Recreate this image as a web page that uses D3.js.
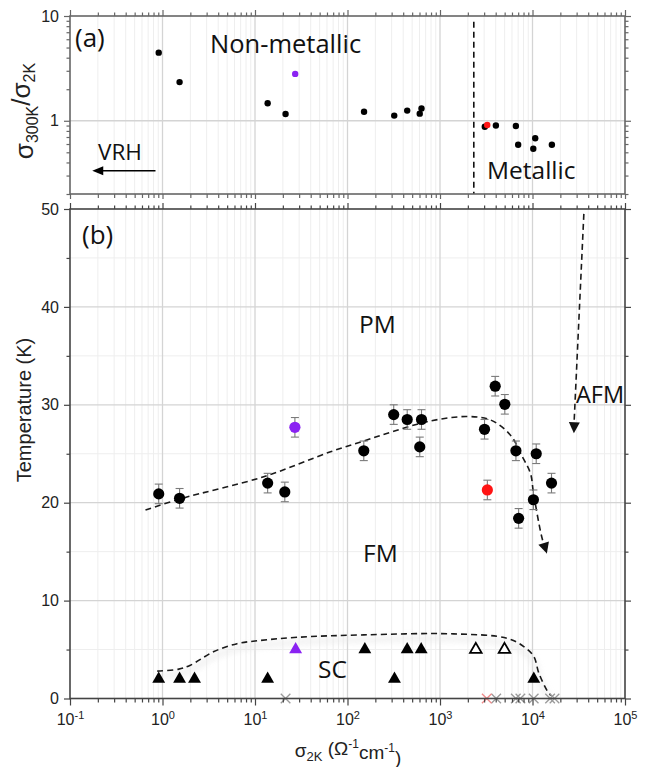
<!DOCTYPE html>
<html>
<head>
<meta charset="utf-8">
<script src="https://cdn.jsdelivr.net/npm/d3@7"></script>
<style>
  body { margin: 0; background: #fff; }
  svg { display: block; }
  .tick text { font-family: "Liberation Sans", Arial, sans-serif; fill: #222; }
</style>
</head>
<body>
<svg id="chart" width="651" height="767"></svg>
<script>
// ---------- (a) conductivity ratio sigma300K / sigma2K ----------
const ratioSigma = [0.91, 1.53, 13.7, 21.4, 151, 320, 442, 604, 631, 3050, 4020, 6610, 7000, 10200, 10700, 16200];
const ratioValue = [4.47, 2.34, 1.47, 1.16, 1.22, 1.12, 1.25, 1.17, 1.31, 0.877, 0.90, 0.89, 0.59, 0.54, 0.68, 0.59];
const ratioVioletSigma = [27.2];
const ratioVioletValue = [2.8];
const ratioRedSigma = [3240];
const ratioRedValue = [0.91];
const metallicBoundary = 2320;

// ---------- (b) transition temperatures ----------
// ferromagnetic Curie temperatures (circles, +/- error)
const fmSigma = [0.91, 1.53, 13.7, 21, 150, 316, 442, 631, 604, 3030, 3950, 5020, 6620, 7080, 10970, 10230, 16050];
const fmTemp  = [20.9, 20.45, 22.0, 21.1, 25.3, 29.0, 28.5, 28.5, 25.7, 27.5, 31.9, 30.05, 25.3, 18.4, 25.0, 20.3, 22.0];
const fmErr   = [1.0, 1.0, 1.0, 1.0, 1.0, 1.0, 1.0, 1.0, 1.0, 1.0, 1.0, 1.0, 1.0, 1.0, 1.0, 1.0, 1.0];
const fmVioletSigma = [27];
const fmVioletTemp = [27.7];
const fmRedSigma = [3250];
const fmRedTemp = [21.3];
const fmHighlightErr = 1.0;

// superconducting transitions (triangles)
const scSigma = [0.91, 1.53, 2.22, 13.7, 154, 322, 442, 626, 10330];
const scTemp  = [2, 2, 2, 2, 5, 2, 5, 5, 2];
const scOpenSigma = [2440, 4980];
const scOpenTemp = [5, 5];
const scVioletSigma = [27.5];
const scVioletTemp = [5];

// samples without a superconducting transition (crosses at 0 K)
const noScSigma = [21.4, 4050, 6600, 7400, 10300, 15500, 17300];
const noScRedSigma = [3200];

// guide-to-the-eye phase boundaries
const fmBoundary = [[0.655, 19.25], [1.57, 20.4], [12.4, 22.65], [65.5, 25.2], [150, 26.3], [316, 27.3],
  [789, 28.35], [1960, 28.8], [3520, 28.45], [5780, 26.9], [7750, 24.7], [9500, 23.0], [10250, 21.0],
  [12600, 16.5], [14300, 14.8]];
const scBoundary = [[0.877, 2.8], [1.5, 3.0], [2.0, 3.4], [3.6, 4.8], [6.4, 5.6], [10, 5.87], [28.6, 6.25],
  [150, 6.5], [1410, 6.6], [5330, 6.15], [8050, 5.3], [10330, 4.3], [11700, 2.6], [14400, 0.8], [15800, 0.3]];
const afmArrow = [[35900, 49.5], [28000, 27.1]];
const vrhArrow = [[0.84, 0.334], [0.174, 0.334]];

// tick values
const xMajor = [0.1, 1, 10, 100, 1000, 10000, 100000];
const yAMajor = [1, 10];
const yBMajor = [0, 10, 20, 30, 40, 50];
const yBMinor = [5, 15, 25, 35, 45];

// ---------- drawing ----------
const VIOLET = "#8a22f2", RED = "#ff1414";
const svg = d3.select("#chart");
svg.append("rect").attr("width", 651).attr("height", 767).attr("fill", "#fff");

const x = d3.scaleLog().domain([0.1, 1e5]).range([70, 625]);
const yA = d3.scaleLog().domain([0.2, 10]).range([194, 16]);
const yB = d3.scaleLinear().domain([0, 50]).range([698.5, 209]);

const xMinor = [];
for (let e = -1; e < 5; e++) for (let k = 2; k <= 9; k++) xMinor.push(k * Math.pow(10, e));
const yAMinor = [];
for (let e = -1; e < 1; e++) for (let k = 2; k <= 9; k++) yAMinor.push(k * Math.pow(10, e));

const defs = svg.append("defs");
defs.append("filter").attr("id", "soft").attr("x", "-10%").attr("y", "-50%").attr("width", "120%").attr("height", "200%")
  .append("feGaussianBlur").attr("stdDeviation", 3);

function grid(g, yScale, yMaj, yMin, x0, x1, y0, y1) {
  g.selectAll(".vmin").data(xMinor).join("line")
    .attr("x1", d => x(d)).attr("x2", d => x(d)).attr("y1", y0).attr("y2", y1)
    .attr("stroke", "#eeeeee").attr("stroke-width", 1);
  g.selectAll(".hmin").data(yMin).join("line").attr("class", "hmin")
    .attr("x1", x0).attr("x2", x1).attr("y1", d => yScale(d)).attr("y2", d => yScale(d))
    .attr("stroke", "#eeeeee").attr("stroke-width", 1);
  g.selectAll(".vmaj").data(xMajor.slice(1, -1)).join("line").attr("class", "vmaj")
    .attr("x1", d => x(d)).attr("x2", d => x(d)).attr("y1", y0).attr("y2", y1)
    .attr("stroke", "#d4d4d4").attr("stroke-width", 1.3);
  g.selectAll(".hmaj").data(yMaj).join("line").attr("class", "hmaj")
    .attr("x1", x0).attr("x2", x1).attr("y1", d => yScale(d)).attr("y2", d => yScale(d))
    .attr("stroke", "#d4d4d4").attr("stroke-width", 1.3);
}

function powerLabel(sel) {
  sel.selectAll(".tick text").each(function (d) {
    const t = d3.select(this).text(null);
    t.append("tspan").text("10");
    t.append("tspan").attr("dy", "-0.55em").attr("font-size", "11px").text(Math.round(Math.log10(d)));
  });
}

function frameAxes(g, yScale, yMaj, yMin, top, bottom, color, showX, yFmt) {
  // bottom
  const bMaj = g.append("g").attr("transform", `translate(0,${bottom})`)
    .call(d3.axisBottom(x).tickValues(xMajor).tickSize(showX ? 7 : 5).tickSizeOuter(0).tickPadding(8));
  g.append("g").attr("transform", `translate(0,${bottom})`)
    .call(d3.axisBottom(x).tickValues(xMinor).tickSize(4).tickFormat(""));
  if (showX) powerLabel(bMaj); else bMaj.selectAll("text").remove();
  // top
  g.append("g").attr("transform", `translate(0,${top})`)
    .call(d3.axisTop(x).tickValues(xMajor).tickSize(6).tickFormat(""));
  g.append("g").attr("transform", `translate(0,${top})`)
    .call(d3.axisTop(x).tickValues(xMinor).tickSize(3.5).tickFormat(""));
  // left
  g.append("g").attr("transform", `translate(70,0)`)
    .call(d3.axisLeft(yScale).tickValues(yMaj).tickSize(6).tickPadding(5).tickFormat(yFmt));
  g.append("g").attr("transform", `translate(70,0)`)
    .call(d3.axisLeft(yScale).tickValues(yMin).tickSize(3.5).tickFormat(""));
  // right
  g.append("g").attr("transform", `translate(625,0)`)
    .call(d3.axisRight(yScale).tickValues(yMaj).tickSize(6).tickFormat(""));
  g.append("g").attr("transform", `translate(625,0)`)
    .call(d3.axisRight(yScale).tickValues(yMin).tickSize(3.5).tickFormat(""));
  g.selectAll(".domain").remove();
  g.selectAll(".tick line").attr("stroke", color).attr("stroke-width", 1.2);
  g.selectAll(".tick text").attr("font-size", "16px").attr("fill", "#222");
  g.append("rect").attr("x", 70).attr("y", top).attr("width", 555).attr("height", bottom - top)
    .attr("fill", "none").attr("stroke", color).attr("stroke-width", 1.6);
}

// ---------------- panel (a) ----------------
const gA = svg.append("g");
grid(gA, yA, [1], [], 70, 625, 16, 194);

gA.append("line")
  .attr("x1", x(metallicBoundary)).attr("x2", x(metallicBoundary))
  .attr("y1", yA(8.8)).attr("y2", yA(0.2))
  .attr("stroke", "#111").attr("stroke-width", 1.6).attr("stroke-dasharray", "6,4");

gA.selectAll(".pa").data(d3.zip(ratioSigma, ratioValue)).join("circle")
  .attr("cx", d => x(d[0])).attr("cy", d => yA(d[1])).attr("r", 3.2).attr("fill", "#000");
gA.selectAll(".pav").data(d3.zip(ratioVioletSigma, ratioVioletValue)).join("circle")
  .attr("cx", d => x(d[0])).attr("cy", d => yA(d[1])).attr("r", 3.2).attr("fill", VIOLET);
gA.selectAll(".par").data(d3.zip(ratioRedSigma, ratioRedValue)).join("circle")
  .attr("cx", d => x(d[0])).attr("cy", d => yA(d[1])).attr("r", 3.2).attr("fill", RED);

// VRH arrow
{
  const [p0, p1] = vrhArrow;
  const xs = x(p0[0]), xe = x(p1[0]), yy = yA(p0[1]);
  gA.append("line").attr("x1", xs).attr("x2", xe + 8).attr("y1", yy).attr("y2", yy)
    .attr("stroke", "#000").attr("stroke-width", 1.5);
  gA.append("path").attr("d", `M${xe},${yy} L${xe + 11},${yy - 4.5} L${xe + 11},${yy + 4.5} Z`).attr("fill", "#000");
}

frameAxes(gA, yA, yAMajor, yAMinor, 16, 194, "#666", false, d => d3.format("d")(d));

// ---------------- panel (b) ----------------
const gB = svg.append("g");
grid(gB, yB, yBMajor.slice(1, -1), yBMinor, 70, 625, 209, 698.5);

const dashed = { stroke: "#1a1a1a", width: 1.6, dash: "6,4" };
const lineGen = d3.line().x(d => x(d[0])).y(d => yB(d[1])).curve(d3.curveCatmullRom.alpha(0.5));

// faint shadow under the superconducting boundary
gB.append("path").attr("d", lineGen(scBoundary)).attr("transform", "translate(0,5)")
  .attr("fill", "none").attr("stroke", "#e6e6e6").attr("stroke-width", 4).attr("opacity", 0.8)
  .attr("filter", "url(#soft)");

gB.append("path").attr("d", lineGen(scBoundary)).attr("fill", "none")
  .attr("stroke", dashed.stroke).attr("stroke-width", dashed.width).attr("stroke-dasharray", dashed.dash);
gB.append("path").attr("d", lineGen(fmBoundary)).attr("fill", "none")
  .attr("stroke", dashed.stroke).attr("stroke-width", dashed.width).attr("stroke-dasharray", dashed.dash);

function arrowHead(g, from, to, len, half) {
  const x0 = x(from[0]), y0 = yB(from[1]), x1 = x(to[0]), y1 = yB(to[1]);
  const a = Math.atan2(y1 - y0, x1 - x0);
  const bx = x1 - len * Math.cos(a), by = y1 - len * Math.sin(a);
  const px = -Math.sin(a) * half, py = Math.cos(a) * half;
  g.append("path").attr("d", `M${x1},${y1} L${bx + px},${by + py} L${bx - px},${by - py} Z`).attr("fill", "#111");
}
arrowHead(gB, fmBoundary[fmBoundary.length - 2], fmBoundary[fmBoundary.length - 1], 11, 5.5);

// AFM arrow
gB.append("line")
  .attr("x1", x(afmArrow[0][0])).attr("y1", yB(afmArrow[0][1]))
  .attr("x2", x(afmArrow[1][0])).attr("y2", yB(afmArrow[1][1]) - 6)
  .attr("stroke", dashed.stroke).attr("stroke-width", dashed.width).attr("stroke-dasharray", dashed.dash);
arrowHead(gB, afmArrow[0], afmArrow[1], 11, 5.5);

// crosses at 0 K
function cross(g, sig, color) {
  const s = 4.8;
  g.selectAll(null).data(sig).join("path")
    .attr("d", d => { const cx = x(d), cy = yB(0); return `M${cx - s},${cy - s}L${cx + s},${cy + s}M${cx - s},${cy + s}L${cx + s},${cy - s}`; })
    .attr("stroke", color).attr("stroke-width", 1.3).attr("fill", "none");
}
cross(gB, noScSigma, "#9a9a9a");
cross(gB, noScRedSigma, "#f08a8a");

// triangles
const tri = d3.symbol().type(d3.symbolTriangle).size(72);
gB.selectAll(null).data(d3.zip(scSigma, scTemp)).join("path")
  .attr("d", tri).attr("transform", d => `translate(${x(d[0])},${yB(d[1])})`).attr("fill", "#000");
gB.selectAll(null).data(d3.zip(scOpenSigma, scOpenTemp)).join("path")
  .attr("d", d3.symbol().type(d3.symbolTriangle).size(58)).attr("transform", d => `translate(${x(d[0])},${yB(d[1])})`)
  .attr("fill", "#fff").attr("stroke", "#000").attr("stroke-width", 1.8);
gB.selectAll(null).data(d3.zip(scVioletSigma, scVioletTemp)).join("path")
  .attr("d", tri).attr("transform", d => `translate(${x(d[0])},${yB(d[1])})`).attr("fill", VIOLET);

// circles with error bars
function errCircles(g, sig, temp, err, color) {
  const data = sig.map((s, i) => ({ s, t: temp[i], e: err[i] }));
  const eb = g.append("g").attr("stroke", "#7a7a7a").attr("stroke-width", 1.1);
  data.forEach(d => {
    const cx = x(d.s), yt = yB(d.t + d.e), yb = yB(d.t - d.e);
    eb.append("line").attr("x1", cx).attr("x2", cx).attr("y1", yt).attr("y2", yb);
    eb.append("line").attr("x1", cx - 4).attr("x2", cx + 4).attr("y1", yt).attr("y2", yt);
    eb.append("line").attr("x1", cx - 4).attr("x2", cx + 4).attr("y1", yb).attr("y2", yb);
  });
  g.selectAll(null).data(data).join("circle")
    .attr("cx", d => x(d.s)).attr("cy", d => yB(d.t)).attr("r", 5.6).attr("fill", color);
}
errCircles(gB, fmSigma, fmTemp, fmErr, "#000");
errCircles(gB, fmVioletSigma, fmVioletTemp, fmVioletTemp.map(() => fmHighlightErr), VIOLET);
errCircles(gB, fmRedSigma, fmRedTemp, fmRedTemp.map(() => fmHighlightErr), RED);

frameAxes(gB, yB, yBMajor, yBMinor, 209, 698.5, "#444", true, d3.format("d"));

// ---------------- annotations ----------------
const ann = (txt, px, py, size) => svg.append("text").attr("x", px).attr("y", py)
  .attr("font-family", "'Open Sans', sans-serif").attr("font-size", size + "px").attr("fill", "#111").text(txt);
ann("(a)", 75, 47, 26);
ann("Non-metallic", 210, 52.5, 25.5);
ann("VRH", 98, 160, 22.5);
ann("Metallic", 487, 179, 24.5);
ann("(b)", 82, 244, 26);
ann("PM", 359, 333, 24.5);
ann("AFM", 576, 403, 23.5);
ann("FM", 363, 561.5, 24.5);
ann("SC", 318, 678, 24.5);

// axis titles
svg.append("text").attr("transform", "translate(31,410) rotate(-90)")
  .attr("text-anchor", "middle").attr("font-family", "'Liberation Sans', Arial, sans-serif")
  .attr("font-size", "20px").attr("fill", "#222").text("Temperature (K)");

const tx = svg.append("text").attr("x", 348).attr("y", 757).attr("text-anchor", "middle")
  .attr("font-family", "'Liberation Sans', Arial, sans-serif").attr("font-size", "19px").attr("fill", "#222");
tx.append("tspan").text("σ");
tx.append("tspan").attr("font-size", "13px").attr("dy", "0.3em").text("2K");
tx.append("tspan").attr("dy", "-0.3em").text(" (Ω");
tx.append("tspan").attr("font-size", "12px").attr("dy", "-0.6em").text("-1");
tx.append("tspan").attr("dy", "0.6em").text("cm");
tx.append("tspan").attr("font-size", "12px").attr("dy", "-0.6em").text("-1");
tx.append("tspan").attr("dy", "0.6em").text(")");

const ta = svg.append("text").attr("transform", "translate(33,111) rotate(-90)")
  .attr("text-anchor", "middle").attr("font-family", "'Liberation Sans', Arial, sans-serif")
  .attr("font-size", "26px").attr("fill", "#222");
ta.append("tspan").text("σ");
ta.append("tspan").attr("font-size", "16px").attr("dy", "0.3em").text("300K");
ta.append("tspan").attr("dy", "-0.3em").text("/σ");
ta.append("tspan").attr("font-size", "16px").attr("dy", "0.3em").text("2K");
</script>
</body>
</html>
